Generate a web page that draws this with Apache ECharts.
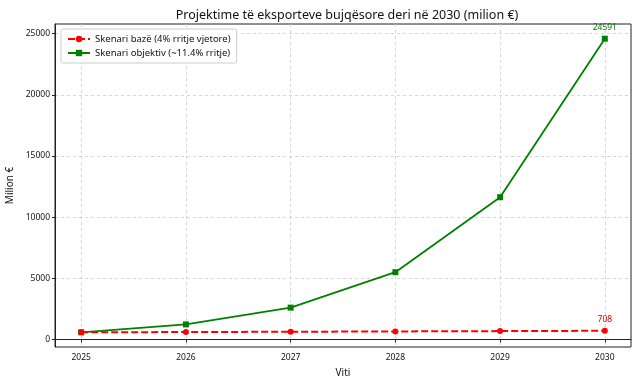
<!DOCTYPE html>
<html><head><meta charset="utf-8">
<script src="https://cdn.jsdelivr.net/npm/echarts@6/dist/echarts.min.js"></script>
<style>html,body{margin:0;padding:0;background:#fff}#c{width:640px;height:384px}</style>
</head><body><div id="c"></div>
<script>
const years = [2025, 2026, 2027, 2028, 2029, 2030];
const baseValues = [582, 605, 629, 655, 681, 708];
const targetValues = [582, 1230, 2600, 5500, 11630, 24591];
const yTicks = [0, 5000, 10000, 15000, 20000, 25000];
const baseName = 'Skenari bazë (4% rritje vjetore)';
const targetName = 'Skenari objektiv (~11.4% rritje)';

const font = 'Noto Sans';
const chart = echarts.init(document.getElementById('c'), null, {renderer: 'canvas'});
const mk = (vals, color) => vals.map((v, i) => {
  const d = {value: [years[i], v]};
  if (i === vals.length - 1) d.label = {show: true, position: 'top', distance: 4, color: color, fontSize: 8.5, fontFamily: font, formatter: String(v)};
  return d;
});
chart.setOption({
  animation: false,
  textStyle: {fontFamily: font},
  title: {text: 'Projektime të eksporteve bujqësore deri në 2030 (milion €)', left: 342, textAlign: 'center', top: 4,
    textStyle: {fontSize: 12.5, fontWeight: 'normal', color: '#111', fontFamily: font}},
  legend: {left: 61, top: 29, orient: 'vertical', itemGap: 4, itemWidth: 22, itemHeight: 8,
    backgroundColor: '#fff', borderColor: '#ccc', borderWidth: 1, borderRadius: 2, padding: [5, 6],
    textStyle: {fontSize: 9.5, color: '#111', fontFamily: font},
    data: [baseName, targetName]},
  grid: {left: 55, right: 9, top: 24, bottom: 37, show: true, borderColor: '#222', borderWidth: 1,
    containLabel: false, outerBoundsMode: 'none'},
  xAxis: {type: 'value', min: 2024.75, max: 2030.25, name: 'Viti', nameLocation: 'middle', nameGap: 21,
    nameTextStyle: {fontSize: 10, color: '#111', fontFamily: font},
    axisLine: {show: true, lineStyle: {color: '#222'}},
    axisTick: {show: true, customValues: years, length: 3, lineStyle: {color: '#222'}},
    axisLabel: {customValues: years, fontSize: 8.5, color: '#111', margin: 6, formatter: v => String(v)},
    splitLine: {show: true, lineStyle: {color: '#ccc', type: [3, 3], width: 0.8}}},
  yAxis: {type: 'value', min: -618, max: 25791, name: 'Milion €', nameLocation: 'middle', nameGap: 37,
    nameTextStyle: {fontSize: 10, color: '#111', fontFamily: font},
    axisLine: {show: true, lineStyle: {color: '#222'}},
    axisTick: {show: true, customValues: yTicks, length: 3, lineStyle: {color: '#222'}},
    axisLabel: {customValues: yTicks, fontSize: 8.5, color: '#111', margin: 5, formatter: v => String(v)},
    splitLine: {show: true, lineStyle: {color: '#ccc', type: [3, 3], width: 0.8}}},
  series: [
    {name: baseName, type: 'line', data: mk(baseValues, '#e00000'), symbol: 'circle', symbolSize: 6,
      itemStyle: {color: '#ff0000'}, lineStyle: {color: '#ff0000', width: 2, type: [7, 3]}, z: 3},
    {name: targetName, type: 'line', data: mk(targetValues, '#008000'), symbol: 'rect', symbolSize: 6,
      itemStyle: {color: '#008000'}, lineStyle: {color: '#008000', width: 1.8}, z: 2}
  ]
});
</script></body></html>
